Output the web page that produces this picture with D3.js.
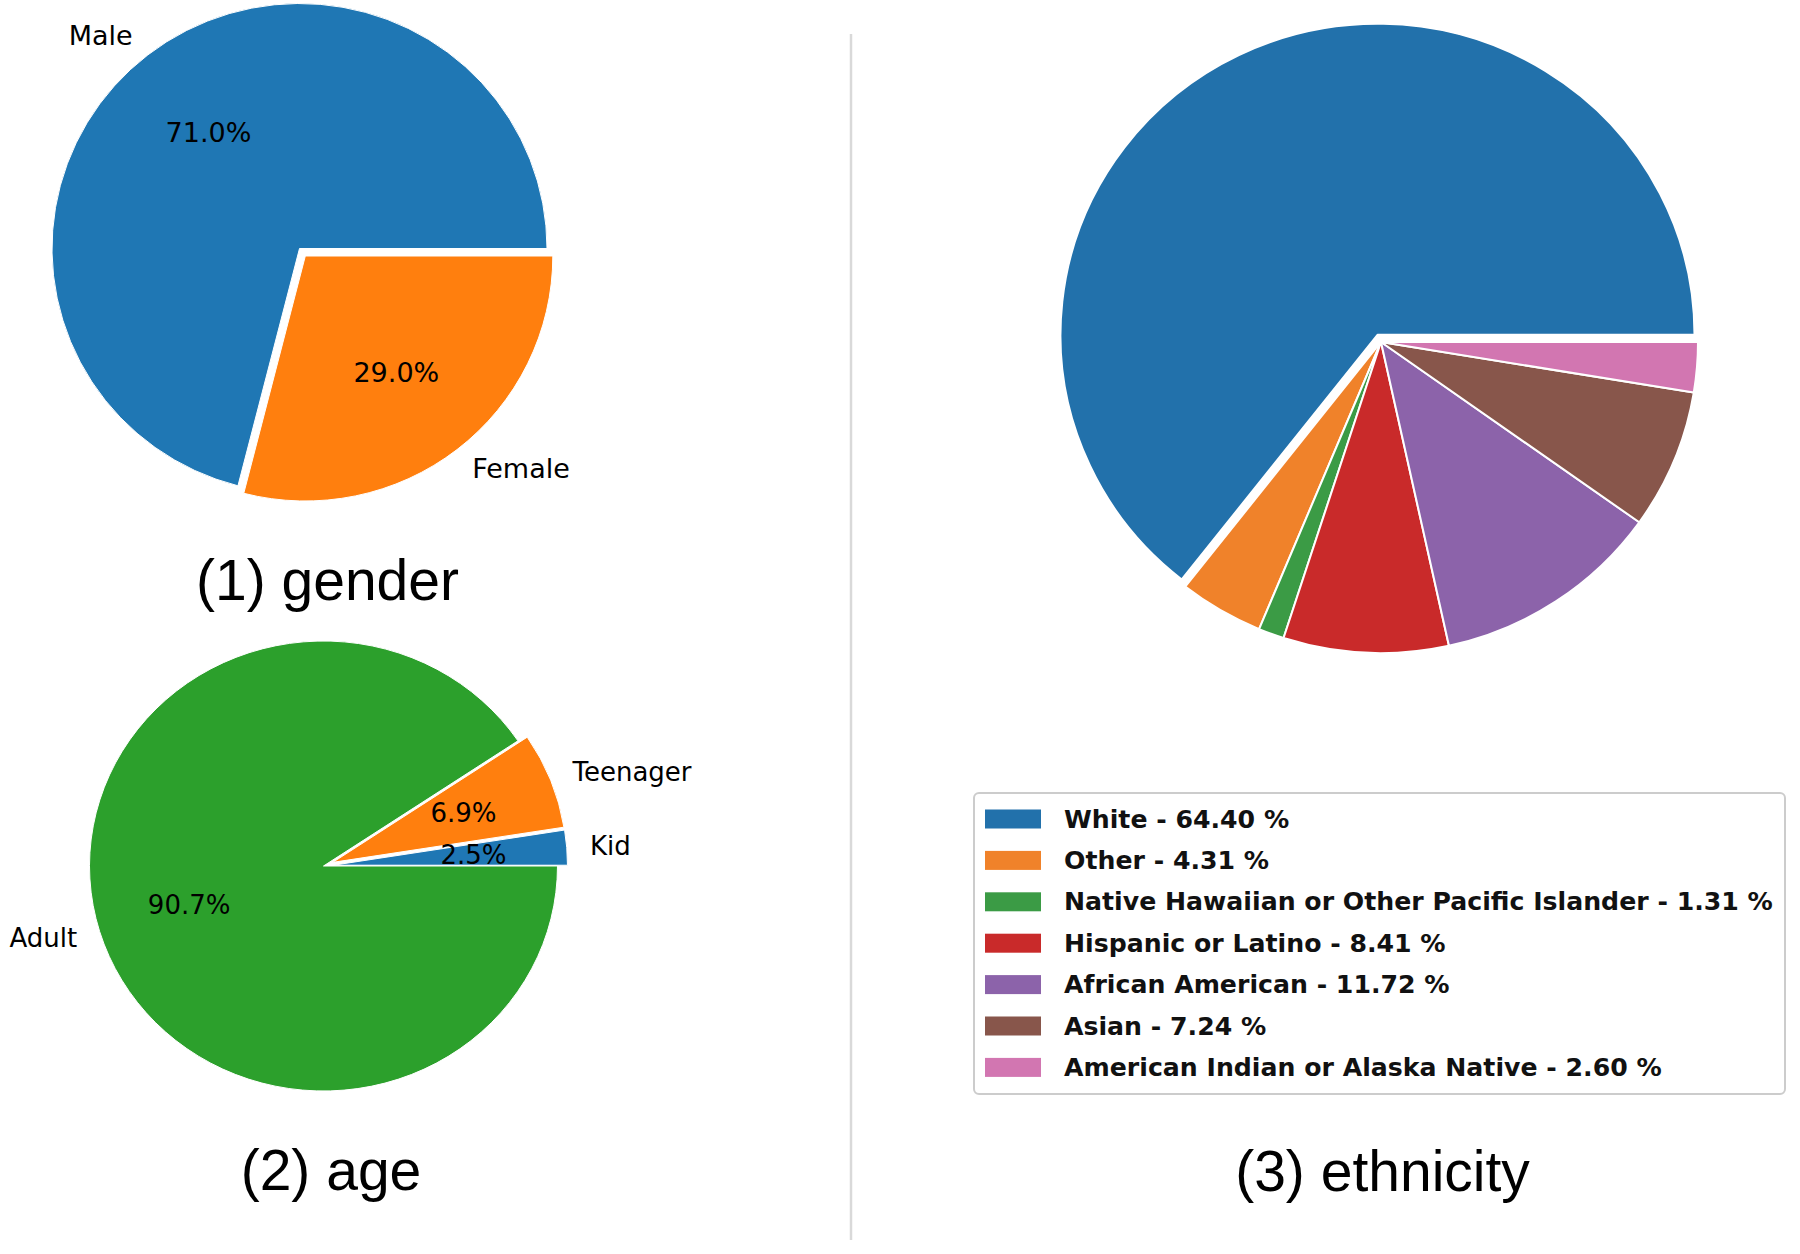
<!DOCTYPE html>
<html>
<head>
<meta charset="utf-8">
<script src="https://cdn.jsdelivr.net/npm/d3@7"></script>
<style>
  html, body { margin: 0; padding: 0; background: #ffffff; }
  svg { display: block; }
</style>
</head>
<body>
<svg id="chart" width="1800" height="1254"></svg>
<script>
// ---------------- DATA ----------------
const genderLabels = ["Male", "Female"];
const genderValues = [71.0, 29.0];

const ageLabels = ["Kid", "Teenager", "Adult"];
const ageValues = [2.5, 6.9, 90.7];

const ethnicityLabels = [
  "White",
  "Other",
  "Native Hawaiian or Other Pacific Islander",
  "Hispanic or Latino",
  "African American",
  "Asian",
  "American Indian or Alaska Native"
];
const ethnicityValues = [64.40, 4.31, 1.31, 8.41, 11.72, 7.24, 2.60];

const panelTitles = ["(1) gender", "(2) age", "(3) ethnicity"];

// ---------------- STYLE / LAYOUT ----------------
const svg = d3.select("#chart");
svg.append("rect").attr("width", 1800).attr("height", 1254).attr("fill", "#ffffff");

const tab = {
  blue: "#1f77b4", orange: "#ff7f0e", green: "#2ca02c"
};
const ethColors = ["#2271ab", "#f0822a", "#3b9b45", "#c92a2a", "#8c63aa", "#88564b", "#d276b1"];

function drawPie(cfg) {
  const g = svg.append("g");
  const pie = d3.pie().sort(null).value(d => d.value)
    .startAngle(Math.PI / 2).endAngle(Math.PI / 2 - 2 * Math.PI);
  const arcs = pie(cfg.labels.map((l, i) => ({ label: l, value: cfg.values[i], i })));
  const r = cfg.ry;
  const sx = cfg.rx / cfg.ry;
  const arc = d3.arc().innerRadius(0).outerRadius(r);

  arcs.forEach((a, i) => {
    const mid = (a.startAngle + a.endAngle) / 2;
    const d = cfg.explode[i] || 0;
    const ox = d * Math.sin(mid), oy = -d * Math.cos(mid);
    a.ox = ox; a.oy = oy; a.mid = mid;
    g.append("g")
      .attr("transform", `translate(${cfg.cx + ox},${cfg.cy + oy}) scale(${sx},1)`)
      .append("path")
      .attr("d", arc(a))
      .attr("fill", cfg.colors[i])
      .attr("stroke", "#ffffff")
      .attr("stroke-width", cfg.strokeWidth)
      .attr("stroke-linejoin", "round")
      .attr("vector-effect", "non-scaling-stroke");
  });

  if (cfg.showLabels) {
    arcs.forEach((a, i) => {
      const sn = Math.sin(a.mid), cs = -Math.cos(a.mid);
      const lx = cfg.cx + a.ox + 1.1 * cfg.rx * sn;
      const ly = cfg.cy + a.oy + 1.1 * cfg.ry * cs;
      g.append("text")
        .attr("x", lx).attr("y", ly)
        .attr("text-anchor", sn > 0 ? "start" : "end")
        .attr("dominant-baseline", "central")
        .attr("font-family", "DejaVu Sans")
        .attr("font-size", cfg.fontSize)
        .attr("fill", "#000")
        .text(a.data.label);
      const px = cfg.cx + a.ox + 0.6 * cfg.rx * sn;
      const py = cfg.cy + a.oy + 0.6 * cfg.ry * cs;
      g.append("text")
        .attr("x", px).attr("y", py)
        .attr("text-anchor", "middle")
        .attr("dominant-baseline", "central")
        .attr("font-family", "DejaVu Sans")
        .attr("font-size", cfg.fontSize)
        .attr("fill", "#000")
        .text(a.data.value.toFixed(1) + "%");
    });
  }
  return arcs;
}

// (1) gender
drawPie({
  labels: genderLabels, values: genderValues,
  cx: 299.5, cy: 248.5, rx: 247.5, ry: 245,
  explode: [0, 9.5],
  colors: [tab.blue, tab.orange],
  strokeWidth: 1, fontSize: 27, showLabels: true
});

// (2) age
drawPie({
  labels: ageLabels, values: ageValues,
  cx: 323.5, cy: 866, rx: 234, ry: 225,
  explode: [10, 10, 0],
  colors: [tab.blue, tab.orange, tab.green],
  strokeWidth: 1, fontSize: 26, showLabels: true
});

// (3) ethnicity
drawPie({
  labels: ethnicityLabels, values: ethnicityValues,
  cx: 1381, cy: 342, rx: 317, ry: 311,
  explode: [8, 0, 0, 0, 0, 0, 0],
  colors: ethColors,
  strokeWidth: 2, fontSize: 26, showLabels: false
});

// divider
svg.append("line")
  .attr("x1", 851).attr("x2", 851)
  .attr("y1", 34).attr("y2", 1240)
  .attr("stroke", "#d9d9d9").attr("stroke-width", 2.5);

// titles
const titlePos = [[327.5, 600], [331, 1190], [1382.5, 1191]];
panelTitles.forEach((t, i) => {
  svg.append("text")
    .attr("x", titlePos[i][0]).attr("y", titlePos[i][1])
    .attr("text-anchor", "middle")
    .attr("font-family", "Liberation Sans, Arial, sans-serif")
    .attr("font-size", 57)
    .attr("fill", "#000")
    .text(t);
});

// legend
const lg = svg.append("g");
lg.append("rect")
  .attr("x", 974).attr("y", 793).attr("width", 811).attr("height", 301)
  .attr("rx", 5).attr("ry", 5)
  .attr("fill", "#ffffff").attr("stroke", "#cccccc").attr("stroke-width", 2);

const rowY = d3.scaleLinear().domain([0, 1]).range([819, 819 + 41.4]);
ethnicityLabels.forEach((l, i) => {
  const y = rowY(i);
  lg.append("rect")
    .attr("x", 985).attr("y", y - 9.5).attr("width", 56).attr("height", 19)
    .attr("fill", ethColors[i]);
  lg.append("text")
    .attr("x", 1064).attr("y", y)
    .attr("dominant-baseline", "central")
    .attr("font-family", "DejaVu Sans")
    .attr("font-weight", "bold")
    .attr("font-size", 25.2)
    .attr("fill", "#111")
    .text(`${l} - ${ethnicityValues[i].toFixed(2)} %`);
});
</script>
</body>
</html>
